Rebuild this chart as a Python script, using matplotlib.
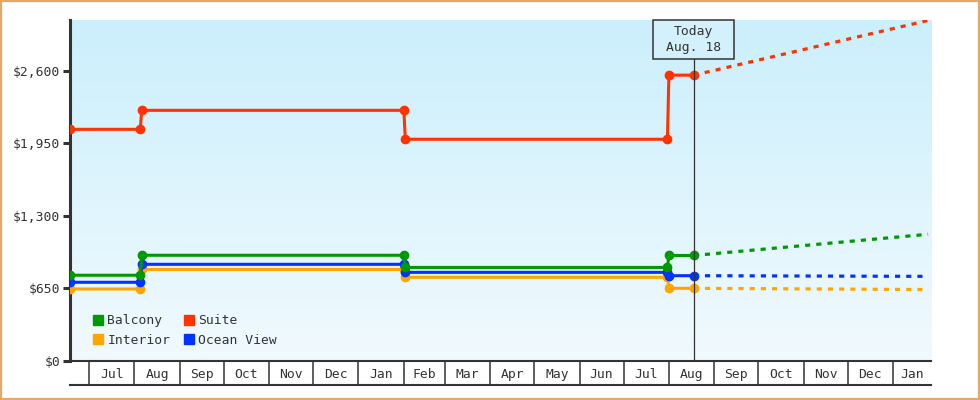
import datetime as dt
import numpy as np
import matplotlib
matplotlib.use('Agg')
import matplotlib.pyplot as plt
import matplotlib.dates as mdates
from matplotlib.lines import Line2D
from matplotlib.patches import Rectangle

plt.rcParams['font.family'] = ['DejaVu Sans Mono']
plt.rcParams['font.size'] = 9.4

# price history (dates where a fare changes, two points per step)
hist_dates = [dt.date(2012, 6, 18), dt.date(2012, 8, 5), dt.date(2012, 8, 6),
              dt.date(2013, 2, 1), dt.date(2013, 2, 2), dt.date(2013, 7, 31),
              dt.date(2013, 8, 1), dt.date(2013, 8, 18)]
balcony = [768, 768, 947, 947, 838, 838, 945, 945]
suite = [2075, 2075, 2245, 2245, 1986, 1986, 2560, 2560]
interior = [645, 645, 820, 820, 750, 750, 651, 651]
ocean_view = [705, 705, 866, 866, 794, 794, 764, 764]

# forecast from today to end of range
fc_dates = [dt.date(2013, 8, 18), dt.date(2014, 1, 25)]
balcony_fc = [945, 1135]
suite_fc = [2560, 3050]
interior_fc = [651, 640]
ocean_view_fc = [764, 758]

today = dt.date(2013, 8, 18)
x_start = dt.date(2012, 6, 18)
x_end = dt.date(2014, 1, 27)

colors = {'Balcony': '#009900', 'Suite': '#ff3300',
          'Interior': '#ffa500', 'Ocean View': '#0033ff'}
ink = '#333333'

fig = plt.figure(figsize=(9.8, 4.0), dpi=100)
W, H = 980.0, 400.0
L, R, T, B = 70, 931, 20, 361
ax = fig.add_axes([L / W, 1 - B / H, (R - L) / W, (B - T) / H])

# gradient background
grad = np.linspace(0, 1, 256)[:, None]
top = np.array([0xcb, 0xef, 0xfc]) / 255
bot = np.array([0xf1, 0xfa, 0xfe]) / 255
img = top[None, None, :] * (1 - grad[..., None]) + bot[None, None, :] * grad[..., None]
ax.imshow(img, extent=[0, 1, 0, 1], transform=ax.transAxes, aspect='auto', zorder=0)

series = [('Suite', suite, suite_fc), ('Balcony', balcony, balcony_fc),
          ('Ocean View', ocean_view, ocean_view_fc), ('Interior', interior, interior_fc)]
for name, vals, fc in series[::-1]:
    c = colors[name]
    ax.plot(hist_dates, vals, color=c, lw=2.2, marker='o', ms=6.0, zorder=3,
            solid_joinstyle='miter')
    ax.plot(fc_dates, fc, color=c, lw=2.3, dashes=(1.6, 1.9), zorder=3)

ax.set_xlim(x_start, x_end)
ax.set_ylim(0, 3054)
ax.set_yticks([0, 650, 1300, 1950, 2600])
ax.set_yticklabels(['$0', '$650', '$1,300', '$1,950', '$2,600'])
ax.tick_params(axis='y', length=5, width=2.2, color=ink, labelcolor=ink, pad=2)
ax.tick_params(axis='x', bottom=False, labelbottom=False)
for s in ['top', 'right']:
    ax.spines[s].set_visible(False)
ax.spines['left'].set_color(ink)
ax.spines['left'].set_linewidth(2.2)
ax.spines['bottom'].set_color(ink)
ax.spines['bottom'].set_linewidth(1.5)

# today marker line and label box
x0, x1 = mdates.date2num(x_start), mdates.date2num(x_end)
frac = (mdates.date2num(today) - x0) / (x1 - x0)
box_h = 39 / (B - T)
box_w = 81 / (R - L)
ax.axvline(today, ymin=0, ymax=1 - box_h, color=ink, lw=0.9, zorder=4)
ax.add_patch(Rectangle((frac - box_w / 2, 1 - box_h), box_w, box_h, transform=ax.transAxes,
                       facecolor='#d3f1fc', edgecolor=ink, lw=1.1, zorder=5, clip_on=False))
ax.text(frac, 1 - box_h / 2, 'Today\nAug. 18', transform=ax.transAxes, ha='center',
        va='center', color=ink, zorder=6, linespacing=1.35)

# legend
handles = [Line2D([], [], ls='none', marker='s', ms=7.2, color=colors[n])
           for n in ['Balcony', 'Interior', 'Suite', 'Ocean View']]
ax.legend(handles, ['Balcony', 'Interior', 'Suite', 'Ocean View'], ncol=2,
          loc='lower left', bbox_to_anchor=(23 / (R - L), 14 / (B - T)), frameon=False,
          borderpad=0, handlelength=0.8, handletextpad=0.3, columnspacing=1.0,
          labelspacing=0.5, labelcolor=ink, borderaxespad=0)

# month table under the plot
tab = fig.add_axes([L / W, 1 - 385 / H, (R - L) / W, 24 / H], sharex=ax)
tab.set_ylim(0, 1)
tab.set_yticks([])
tab.tick_params(axis='x', bottom=False, labelbottom=False)
for s in ['top', 'left', 'right']:
    tab.spines[s].set_visible(False)
tab.spines['bottom'].set_color(ink)
tab.spines['bottom'].set_linewidth(1.5)
tab.patch.set_visible(False)

months = []
d = dt.date(x_start.year, x_start.month, 1)
while d <= x_end:
    months.append(d)
    d = dt.date(d.year + (d.month == 12), d.month % 12 + 1, 1)
for i, m in enumerate(months):
    nxt = months[i + 1] if i + 1 < len(months) else x_end
    lo = max(m, x_start)
    hi = min(nxt, x_end)
    if m > x_start:
        tab.axvline(m, color=ink, lw=1.1)
    if (hi - lo).days > 20:
        mid = mdates.num2date((mdates.date2num(lo) + mdates.date2num(hi)) / 2)
        tab.text(mid, 0.45, m.strftime('%b'), ha='center', va='center', color=ink)

fig.patches.append(Rectangle((0.001, 0.0015), 0.998, 0.997, transform=fig.transFigure,
                             fill=False, edgecolor='#e8a865', lw=1.6))

plt.savefig('out.png', dpi=100)
